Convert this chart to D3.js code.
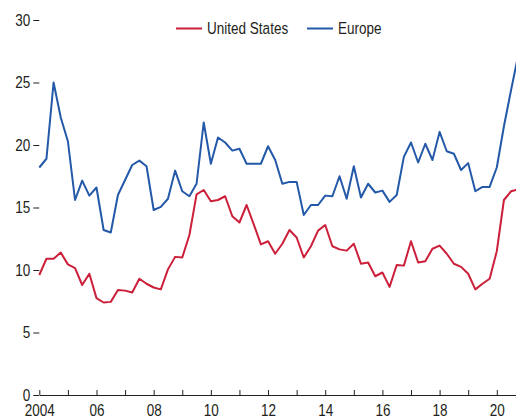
<!DOCTYPE html>
<html>
<head>
<meta charset="utf-8">
<script src="https://cdn.jsdelivr.net/npm/d3@7"></script>
<style>
  body { margin: 0; background: #fff; }
  svg text { font-family: "Liberation Sans", Arial, sans-serif; fill: #231f20; }
</style>
</head>
<body>
<div id="chart"></div>
<script>
// quarterly observations, 2004:Q1 onwards
const startYear = 2004
const nQuarters = 68

const unitedStates = [
  9.6, 10.9, 10.9, 11.4, 10.45, 10.15, 8.8, 9.7,
  7.75, 7.4, 7.45, 8.4, 8.35, 8.2, 9.3, 8.9,
  8.6, 8.45, 10.05, 11.05, 11.0, 12.8, 16.05, 16.4,
  15.5, 15.6, 15.9, 14.3, 13.8, 15.2, 13.65, 12.05,
  12.3, 11.3, 12.1, 13.2, 12.6, 11.0, 11.9, 13.15,
  13.6, 11.9, 11.65, 11.55, 12.1, 10.5, 10.6, 9.5,
  9.8, 8.65, 10.4, 10.35, 12.3, 10.6, 10.7, 11.7,
  11.95, 11.3, 10.5, 10.25, 9.7, 8.45, 8.9, 9.3,
  11.5, 15.6, 16.3, 16.45
]
const europe = [
  18.2, 18.9, 25.0, 22.2, 20.3, 15.6, 17.15, 15.95,
  16.6, 13.2, 13.0, 16.0, 17.2, 18.4, 18.75, 18.3,
  14.8, 15.05, 15.7, 17.95, 16.3, 15.9, 16.9, 21.8,
  18.5, 20.6, 20.2, 19.55, 19.7, 18.5, 18.5, 18.5,
  19.9, 18.8, 16.9, 17.05, 17.05, 14.4, 15.2, 15.2,
  15.95, 15.9, 17.5, 15.7, 18.3, 15.8, 16.9, 16.2,
  16.35, 15.45, 16.0, 19.05, 20.2, 18.6, 20.1, 18.8,
  21.05, 19.5, 19.3, 18.0, 18.55, 16.3, 16.65, 16.65,
  18.2, 21.5, 24.4, 27.2
]
const seriesNames = ["United States", "Europe"]
const seriesColors = ["#cc1f3a", "#2359a8"]
const yTicks = [0, 5, 10, 15, 20, 25, 30]
const xTicks = d3.range(2004, 2021)

const width = 516
const height = 416
const fontSize = "16.5px"
// no narrow font installed, so squeeze a regular sans horizontally
const squeeze = 0.82

function condense(sel) {
    sel.each(function () {
        const t = d3.select(this)
        const x0 = +t.attr("x") || 0
        t.attr("transform", "translate(" + x0 + ",0) scale(" + squeeze + ",1) translate(" + (-x0) + ",0)")
    })
}

const svg = d3.select("#chart").append("svg")
    .attr("width", width)
    .attr("height", height)

// scales
const x = d3.scaleLinear()
    .domain([2004, 2020.7])
    .range([39.3, 516.8])
const y = d3.scaleLinear()
    .domain([0, 30])
    .range([395, 20])

// y axis: labels with a short dash, no axis line
svg.append("g")
    .attr("transform", "translate(39.3,0)")
    .style("font-size", fontSize)
    .call(d3.axisLeft(y).tickValues(yTicks).tickSize(6).tickPadding(3))
    .call(g => g.select(".domain").remove())
    .call(g => g.selectAll(".tick line").attr("stroke", "#231f20"))
    .call(g => g.selectAll("text").attr("fill", "#231f20").style("font-family", null).call(condense))

// x axis: ticks every year pointing up, labels every two years
svg.append("g")
    .attr("transform", "translate(0," + y(0) + ")")
    .style("font-size", fontSize)
    .call(d3.axisBottom(x)
        .tickValues(xTicks)
        .tickSizeInner(-5)
        .tickSizeOuter(0)
        .tickPadding(9)
        .tickFormat(d => d % 2 ? "" : (d === 2004 ? "2004" : String(d).slice(2))))
    .call(g => g.select(".domain").attr("stroke", "#231f20"))
    .call(g => g.selectAll(".tick line").attr("stroke", "#231f20"))
    .call(g => g.selectAll("text").attr("fill", "#231f20").style("font-family", null).call(condense))

// lines
const quarters = d3.range(nQuarters).map(i => startYear + i / 4)
const line = d3.line()
    .x((d, i) => x(quarters[i]))
    .y(d => y(d))

;[unitedStates, europe].forEach(function (values, k) {
    svg.append("path")
        .datum(values)
        .attr("fill", "none")
        .attr("stroke", seriesColors[k])
        .attr("stroke-width", 2)
        .attr("stroke-linejoin", "round")
        .attr("d", line)
})

// legend
const legendX = [176, 307]
const legend = svg.append("g").style("font-size", fontSize)
seriesNames.forEach(function (name, k) {
    legend.append("line")
        .attr("x1", legendX[k]).attr("x2", legendX[k] + 26)
        .attr("y1", 28.5).attr("y2", 28.5)
        .attr("stroke", seriesColors[k])
        .attr("stroke-width", 2)
    legend.append("text")
        .attr("x", legendX[k] + 31)
        .attr("y", 28.5)
        .attr("dy", "0.35em")
        .text(name)
        .call(condense)
})
</script>
</body>
</html>
